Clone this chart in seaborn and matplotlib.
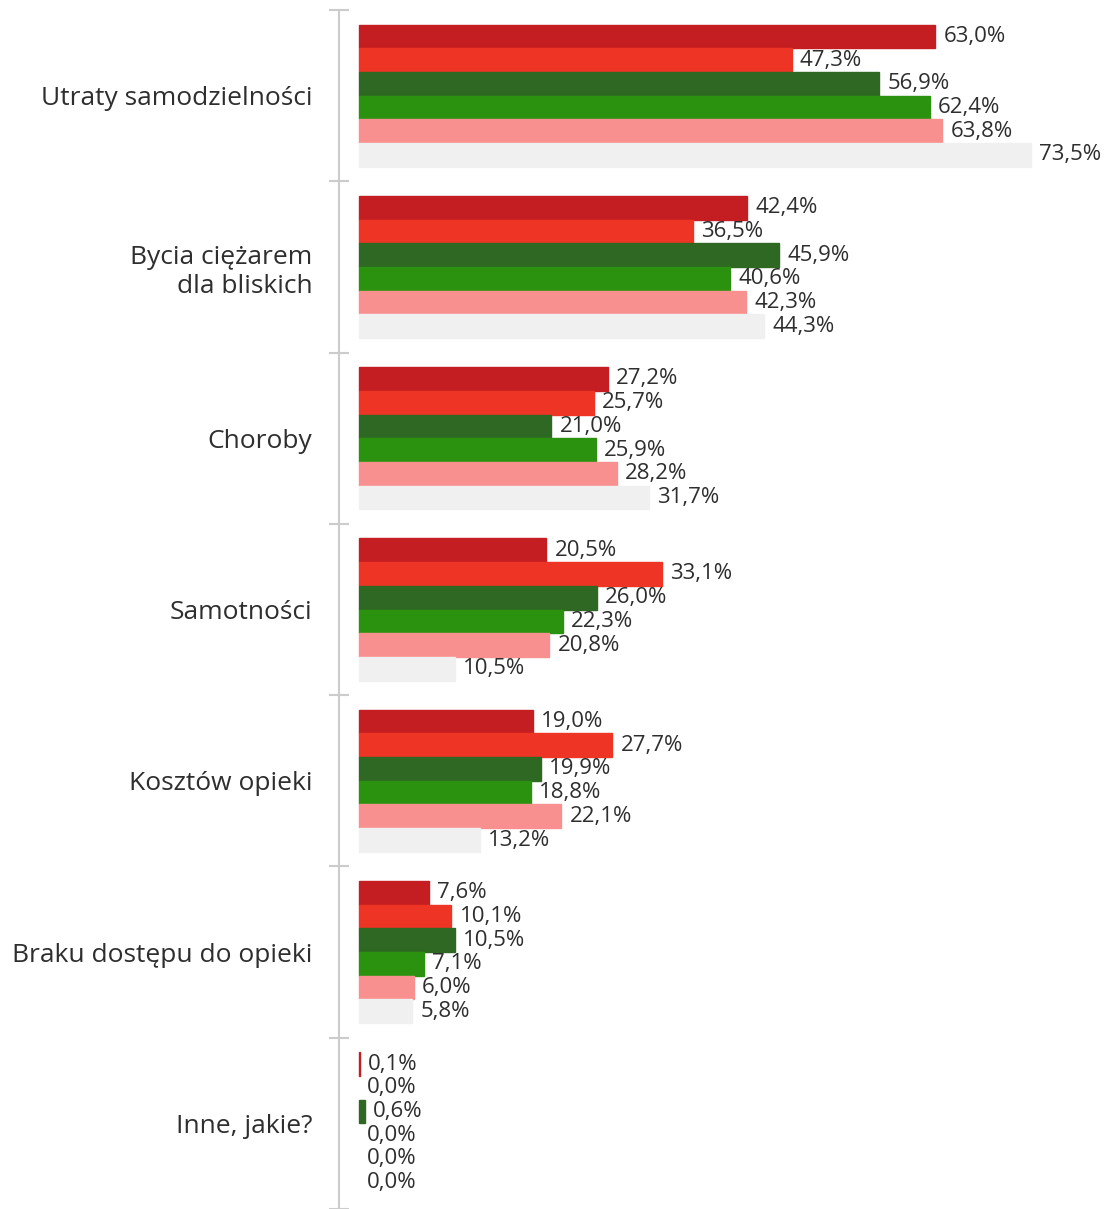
import pandas as pd
import matplotlib.pyplot as plt
import seaborn as sns

# values (percent)
categories = [
    "Utraty samodzielności",
    "Bycia ciężarem\ndla bliskich",
    "Choroby",
    "Samotności",
    "Kosztów opieki",
    "Braku dostępu do opieki",
    "Inne, jakie?",
]
series_names = ["s1", "s2", "s3", "s4", "s5", "s6"]
s1 = [63.0, 42.4, 27.2, 20.5, 19.0, 7.6, 0.1]
s2 = [47.3, 36.5, 25.7, 33.1, 27.7, 10.1, 0.0]
s3 = [56.9, 45.9, 21.0, 26.0, 19.9, 10.5, 0.6]
s4 = [62.4, 40.6, 25.9, 22.3, 18.8, 7.1, 0.0]
s5 = [63.8, 42.3, 28.2, 20.8, 22.1, 6.0, 0.0]
s6 = [73.5, 44.3, 31.7, 10.5, 13.2, 5.8, 0.0]
colors = ["#C41E22", "#EE3424", "#2F6823", "#2B9210", "#F99090", "#F0F0F0"]

# long format for seaborn
rows = []
for name, vals in zip(series_names, [s1, s2, s3, s4, s5, s6]):
    for cat, v in zip(categories, vals):
        rows.append({"category": cat, "series": name, "value": v})
df = pd.DataFrame(rows)

sns.set_style("white")
plt.rcParams["font.family"] = ["Open Sans", "DejaVu Sans"]
text_color = "#2E2E2E"

fig = plt.figure(figsize=(11.07, 12.09), dpi=100)
ax = fig.add_axes([339 / 1107, 0.0, 1 - 339 / 1107, 1 - 10 / 1209])

sns.barplot(
    data=df, y="category", x="value", hue="series",
    order=categories, hue_order=series_names,
    palette=colors, orient="h", width=0.83, gap=0,
    errorbar=None, legend=False, ax=ax, saturation=1, linewidth=0,
)

# no white gaps; tiny bars still visible
for p in ax.patches:
    if p.get_width() > 0:
        p.set_edgecolor(p.get_facecolor())
        p.set_linewidth(1)

# value labels
for cont in ax.containers:
    labels = [f"{b.get_width():.1f}".replace(".", ",") + "%" for b in cont]
    ax.bar_label(cont, labels=labels, padding=6, fontsize=16, color=text_color)

ax.set_xlim(-2.19, 81.8)
ax.set_ylim(len(categories) - 0.5, -0.5)
ax.set_xlabel("")
ax.set_ylabel("")
ax.set_xticks([])

# tick marks between categories, labels at centers
ax.set_yticks(range(len(categories)))
ax.set_yticklabels(categories, fontsize=19, color=text_color, linespacing=1.2)
ax.set_yticks([i - 0.5 for i in range(len(categories) + 1)], minor=True)
ax.tick_params(axis="y", which="major", length=0, pad=19)
ax.tick_params(axis="y", which="minor", length=14, direction="inout",
               color="#CCCCCC", width=1.5, left=True)

for side in ["top", "right", "bottom"]:
    ax.spines[side].set_visible(False)
ax.spines["left"].set_color("#CCCCCC")
ax.spines["left"].set_linewidth(1.5)

fig.savefig("out.png", dpi=100)
